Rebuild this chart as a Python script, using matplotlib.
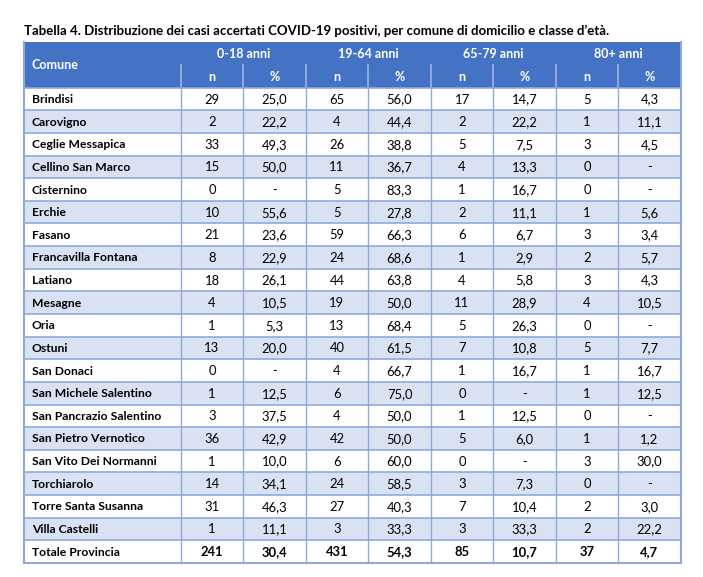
import matplotlib
matplotlib.use("Agg")
import matplotlib.pyplot as plt
from matplotlib.patches import Rectangle

plt.rcParams['font.family'] = ['Lato', 'DejaVu Sans']

# dati della tabella
comuni = ["Brindisi", "Carovigno", "Ceglie Messapica", "Cellino San Marco", "Cisternino",
          "Erchie", "Fasano", "Francavilla Fontana", "Latiano", "Mesagne", "Oria", "Ostuni",
          "San Donaci", "San Michele Salentino", "San Pancrazio Salentino",
          "San Pietro Vernotico", "San Vito Dei Normanni", "Torchiarolo",
          "Torre Santa Susanna", "Villa Castelli"]
n_0_18 = ["29", "2", "33", "15", "0", "10", "21", "8", "18", "4", "1", "13", "0", "1", "3", "36", "1", "14", "31", "1"]
p_0_18 = ["25,0", "22,2", "49,3", "50,0", "-", "55,6", "23,6", "22,9", "26,1", "10,5", "5,3", "20,0", "-", "12,5", "37,5", "42,9", "10,0", "34,1", "46,3", "11,1"]
n_19_64 = ["65", "4", "26", "11", "5", "5", "59", "24", "44", "19", "13", "40", "4", "6", "4", "42", "6", "24", "27", "3"]
p_19_64 = ["56,0", "44,4", "38,8", "36,7", "83,3", "27,8", "66,3", "68,6", "63,8", "50,0", "68,4", "61,5", "66,7", "75,0", "50,0", "50,0", "60,0", "58,5", "40,3", "33,3"]
n_65_79 = ["17", "2", "5", "4", "1", "2", "6", "1", "4", "11", "5", "7", "1", "0", "1", "5", "0", "3", "7", "3"]
p_65_79 = ["14,7", "22,2", "7,5", "13,3", "16,7", "11,1", "6,7", "2,9", "5,8", "28,9", "26,3", "10,8", "16,7", "-", "12,5", "6,0", "-", "7,3", "10,4", "33,3"]
n_80 = ["5", "1", "3", "0", "0", "1", "3", "2", "3", "4", "0", "5", "1", "1", "0", "1", "3", "0", "2", "2"]
p_80 = ["4,3", "11,1", "4,5", "-", "-", "5,6", "3,4", "5,7", "4,3", "10,5", "-", "7,7", "16,7", "12,5", "-", "1,2", "30,0", "-", "3,0", "22,2"]
totale = ["Totale Provincia", "241", "30,4", "431", "54,3", "85", "10,7", "37", "4,7"]
classi = ["0-18 anni", "19-64 anni", "65-79 anni", "80+ anni"]
titolo = "Tabella 4. Distribuzione dei casi accertati COVID-19 positivi, per comune di domicilio e classe d\u2019et\u00e0."

righe = [list(r) for r in zip(comuni, n_0_18, p_0_18, n_19_64, p_19_64, n_65_79, p_65_79, n_80, p_80)]
righe.append(totale)

# geometria in pixel
col_x = [24, 181, 243, 306, 368, 431, 493, 556, 618, 681]
top = 42
mid = 64.5
head_bot = 87.7
row_h = 22.63

blu = "#4472C4"
chiaro = "#D9E2F3"
linea = "#8EAADB"

fig = plt.figure(figsize=(7.03, 5.77), dpi=100)
ax = fig.add_axes([0, 0, 1, 1])
ax.set_xlim(0, 703)
ax.set_ylim(577, 0)
ax.axis("off")

ax.text(24, 31, titolo, fontsize=9.5, fontweight="bold", va="center", ha="left")

# intestazione
ax.add_patch(Rectangle((col_x[0], top), col_x[-1] - col_x[0], head_bot - top, facecolor=blu, edgecolor="none"))
ax.text(col_x[0] + 8, (top + head_bot) / 2, "Comune", color="white", fontsize=9, fontweight="bold", va="center")
for i, c in enumerate(classi):
    x0 = col_x[1 + 2 * i]
    x1 = col_x[3 + 2 * i]
    ax.text((x0 + x1) / 2, (top + mid) / 2 + 1, c, color="white", fontsize=9, fontweight="bold", va="center", ha="center")
    ax.text((x0 + col_x[2 + 2 * i]) / 2, (mid + head_bot) / 2 + 1, "n", color="white", fontsize=9, fontweight="bold", va="center", ha="center")
    ax.text((col_x[2 + 2 * i] + x1) / 2, (mid + head_bot) / 2 + 1, "%", color="white", fontsize=9, fontweight="bold", va="center", ha="center")
# linee verticali nell'intestazione (solo seconda riga)
for x in col_x[1:-1]:
    ax.plot([x, x], [mid, head_bot], color="#9DB5E0", lw=1.2)

# righe dati
for r, riga in enumerate(righe):
    y0 = head_bot + r * row_h
    fc = "white" if r % 2 == 0 else chiaro
    ax.add_patch(Rectangle((col_x[0], y0), col_x[-1] - col_x[0], row_h, facecolor=fc, edgecolor="none"))
    peso = "bold" if r == len(righe) - 1 else "normal"
    yc = y0 + row_h / 2 + 0.5
    ax.text(col_x[0] + 8, yc, riga[0], fontsize=8.7, fontweight="bold", va="center", ha="left")
    for j, v in enumerate(riga[1:]):
        ax.text((col_x[1 + j] + col_x[2 + j]) / 2, yc, v, fontsize=9.4, fontweight=peso,
                va="center", ha="center", color="black")
    ax.plot([col_x[0], col_x[-1]], [y0, y0], color=linea, lw=1.2)

fondo = head_bot + len(righe) * row_h
ax.plot([col_x[0], col_x[-1]], [fondo, fondo], color=linea, lw=1.5)
for x in col_x[1:-1]:
    ax.plot([x, x], [head_bot, fondo], color=linea, lw=1.0)
ax.plot([col_x[0], col_x[0]], [top, fondo], color=linea, lw=1.5)
ax.plot([col_x[-1], col_x[-1]], [top, fondo], color=linea, lw=1.5)

fig.savefig("out.png", dpi=100)
